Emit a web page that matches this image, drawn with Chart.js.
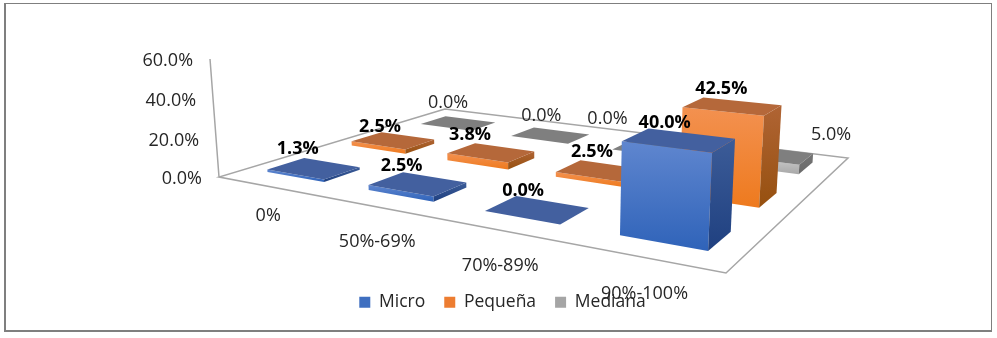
<!DOCTYPE html>
<html>
<head>
<meta charset="utf-8">
<title>Micro, Pequeña, Mediana</title>
<script src="https://cdn.jsdelivr.net/npm/chart.js@4"></script>
<style>
    html, body { margin: 0; padding: 0; background: #fff; }
    #wrap { position: relative; width: 997px; height: 338px; overflow: hidden; }
    #frame {
        position: absolute; left: 4px; top: 3px; width: 985px; height: 326px;
        border: solid #7f7f7f; border-width: 1px 1px 2px 2px; pointer-events: none;
    }
</style>
</head>
<body>
<div id="wrap">
    <canvas id="chart"></canvas>
    <div id="frame"></div>
</div>
<script>
// Chart data
const categories = ['0%', '50%-69%', '70%-89%', '90%-100%'];
const seriesNames = ['Micro', 'Pequeña', 'Mediana'];
const micro = [1.3, 2.5, 0.0, 40.0];
const pequena = [2.5, 3.8, 2.5, 42.5];
const mediana = [0.0, 0.0, 0.0, 5.0];
const valueTicks = [0, 20, 40, 60];

// Colours per series: legend, top face, front gradient, side gradient
const colors = [
    { legend: '#3f6fc0', top: '#43609f', front: ['#5f86cf', '#2f63b9'], side: ['#3c5c98', '#1f4080'] },
    { legend: '#ed7d31', top: '#b5683a', front: ['#f39150', '#ee7a1e'], side: ['#b06434', '#96500f'] },
    { legend: '#a5a5a5', top: '#7f7f7f', front: ['#cfcfcf', '#a8a8a8'], side: ['#747474', '#6a6a6a'] }
];

// Where the floor sits in the picture (front-left, front-right, back-right, back-left)
const floorCorners = [[219, 177], [726, 273], [848, 158], [445, 109]];
// Vertical vanishing point and how far the full value axis reaches towards it
const verticalVanish = [539, 4378];
const axisDepth = -0.02732;
// Footprint of one box on the floor, as a share of the floor
const boxU = 0.144;
const boxV = 0.137;

// Category label offsets from the front edge of the floor: [x, y]
const categoryOffsets = [[1, 30], [3, 35], [2, 36], [1, 36]];

// Data label offsets from the centre of each box top: [series][category]
const labelOffsets = [
    [[-16, -19], [-16, -18], [-14, -19], [-14, -17]],
    [[-13, -14], [-21, -18], [-10, -19], [-11, -17]],
    [[-10, -20], [-9, -19], [-46, -30], [61, -20]]
];

// Build the square-to-floor homography
function floorMatrix(p) {
    const dx1 = p[1][0] - p[2][0], dx2 = p[3][0] - p[2][0], sx = p[0][0] - p[1][0] + p[2][0] - p[3][0];
    const dy1 = p[1][1] - p[2][1], dy2 = p[3][1] - p[2][1], sy = p[0][1] - p[1][1] + p[2][1] - p[3][1];
    const den = dx1 * dy2 - dx2 * dy1;
    const g = (sx * dy2 - dx2 * sy) / den;
    const h = (dx1 * sy - sx * dy1) / den;
    return {
        a: p[1][0] - p[0][0] + g * p[1][0], b: p[3][0] - p[0][0] + h * p[3][0], c: p[0][0],
        d: p[1][1] - p[0][1] + g * p[1][1], e: p[3][1] - p[0][1] + h * p[3][1], f: p[0][1],
        g: g, h: h
    };
}
const floor = floorMatrix(floorCorners);

// u, v on the floor and z up the value axis (all 0..1) to a canvas point
function project(u, v, z) {
    const q = axisDepth * z;
    const w = 1 + floor.g * u + floor.h * v + q;
    return [
        (floor.a * u + floor.b * v + floor.c + q * verticalVanish[0]) / w,
        (floor.d * u + floor.e * v + floor.f + q * verticalVanish[1]) / w
    ];
}

function fillFace(ctx, pts, fill) {
    ctx.beginPath();
    pts.forEach(function(p, i) {
        if (i === 0) ctx.moveTo(p[0], p[1]);
        else ctx.lineTo(p[0], p[1]);
    });
    ctx.closePath();
    ctx.fillStyle = fill;
    ctx.fill();
}

function faceGradient(ctx, pts, stops) {
    const ys = pts.map(function(p) { return p[1]; });
    const grad = ctx.createLinearGradient(0, Math.min.apply(null, ys), 0, Math.max.apply(null, ys));
    grad.addColorStop(0, stops[0]);
    grad.addColorStop(1, stops[1]);
    return grad;
}

function drawBox(ctx, u, v, z, color) {
    const u0 = u - boxU / 2, u1 = u + boxU / 2, v0 = v - boxV / 2, v1 = v + boxV / 2;
    const front = [project(u0, v0, z), project(u1, v0, z), project(u1, v0, 0), project(u0, v0, 0)];
    const side = [project(u1, v0, z), project(u1, v1, z), project(u1, v1, 0), project(u1, v0, 0)];
    const top = [project(u0, v0, z), project(u1, v0, z), project(u1, v1, z), project(u0, v1, z)];
    if (z > 0) {
        fillFace(ctx, front, faceGradient(ctx, front, color.front));
        fillFace(ctx, side, faceGradient(ctx, side, color.side));
    }
    fillFace(ctx, top, color.top);
}

// Draws the 3D floor, boxes and texts in place of the flat bars
const perspectivePlugin = {
    id: 'perspective',
    beforeDatasetsDraw(chart) {
        const ctx = chart.ctx;
        const xScale = chart.scales.x;
        const yScale = chart.scales.y;
        const depthScale = chart.scales.depth;
        const uOf = function(i) { return xScale.getDecimalForPixel(xScale.getPixelForValue(i)); };
        const vOf = function(j) { return depthScale.getDecimalForPixel(depthScale.getPixelForValue(j)); };
        const zOf = function(val) { return yScale.getDecimalForPixel(yScale.getPixelForValue(val)); };

        ctx.save();

        // Floor outline and value axis
        ctx.strokeStyle = '#a6a6a6';
        ctx.lineWidth = 1.5;
        ctx.beginPath();
        const corners = [project(0, 1, 0), project(0, 0, 0), project(1, 0, 0), project(1, 1, 0)];
        corners.forEach(function(p, i) {
            if (i === 0) ctx.moveTo(p[0], p[1]);
            else ctx.lineTo(p[0], p[1]);
        });
        ctx.closePath();
        const axisTop = project(0, 0, 1);
        ctx.moveTo(corners[1][0], corners[1][1]);
        ctx.lineTo(axisTop[0], axisTop[1]);
        ctx.stroke();

        // Boxes, back row first
        for (let j = chart.data.datasets.length - 1; j >= 0; j--) {
            chart.data.datasets[j].data.forEach(function(val, i) {
                drawBox(ctx, uOf(i), vOf(j), zOf(val), colors[j]);
            });
        }

        // Value axis labels
        ctx.fillStyle = '#262626';
        ctx.font = '18px "Open Sans"';
        ctx.textAlign = 'right';
        ctx.textBaseline = 'middle';
        valueTicks.forEach(function(t) {
            const p = project(0, 0, zOf(t));
            ctx.fillText(t.toFixed(1) + '%', p[0] - 17, p[1] + 2);
        });

        // Category labels under the front edge
        ctx.textAlign = 'center';
        categories.forEach(function(name, i) {
            const p = project(uOf(i), 0, 0);
            ctx.fillText(name, p[0] + categoryOffsets[i][0], p[1] + categoryOffsets[i][1]);
        });

        // Data labels, bold on the two front rows
        chart.data.datasets.forEach(function(ds, j) {
            ctx.font = (j < 2 ? 'bold ' : '') + '18px "Open Sans"';
            ctx.fillStyle = j < 2 ? '#000' : '#262626';
            ds.data.forEach(function(val, i) {
                const p = project(uOf(i), vOf(j), zOf(val));
                const off = labelOffsets[j][i];
                ctx.fillText(val.toFixed(1) + '%', p[0] + off[0], p[1] + off[1]);
            });
        });

        ctx.restore();
        return false; // flat bars are replaced by the boxes above
    }
};

new Chart(document.getElementById('chart'), {
    type: 'bar',
    data: {
        labels: categories,
        datasets: [
            { label: seriesNames[0], data: micro, backgroundColor: colors[0].legend },
            { label: seriesNames[1], data: pequena, backgroundColor: colors[1].legend },
            { label: seriesNames[2], data: mediana, backgroundColor: colors[2].legend }
        ]
    },
    options: {
        responsive: true,
        maintainAspectRatio: false,
        animation: false,
        layout: { padding: { bottom: 17, left: 8 } },
        scales: {
            x: { type: 'category', offset: true, display: false },
            y: { type: 'linear', min: 0, max: 60, display: false },
            depth: { type: 'category', axis: 'y', labels: seriesNames, offset: true, display: false }
        },
        plugins: {
            tooltip: { enabled: false },
            legend: {
                position: 'bottom',
                labels: {
                    boxWidth: 11,
                    boxHeight: 11,
                    padding: 19,
                    color: '#262626',
                    font: { family: '"Open Sans"', size: 17.5 }
                }
            }
        }
    },
    plugins: [perspectivePlugin]
});
</script>
</body>
</html>
